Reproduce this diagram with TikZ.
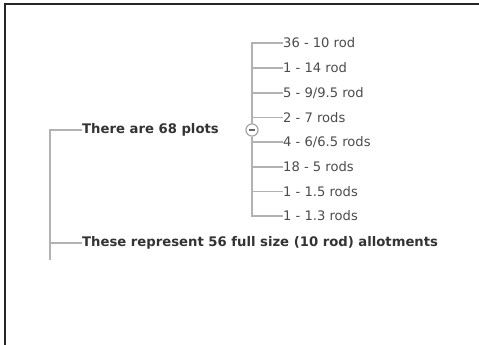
\documentclass[tikz,border=0pt]{standalone}
\usepackage{fontspec}
\setmainfont{DejaVu Sans}
\begin{document}
\begin{tikzpicture}[x=1pt,y=-1pt,
  conn/.style={draw=black!30, line width=1.1pt},
  topic/.style={anchor=west, inner sep=0pt, text=black!80, font=\bfseries\fontsize{13.2}{15}\selectfont},
  sub/.style={anchor=west, inner sep=0pt, text=black!70, font=\fontsize{13.1}{15}\selectfont},
  frame/.style={draw=black!85, line width=2pt}]
\useasboundingbox (0,0) rectangle (479,345);
\fill[white] (0,0) rectangle (479,345);
\draw[frame] (5,345) -- (5,4.5) -- (479,4.5);
% left trunk
\coordinate (trunkTop) at (50,130);
\coordinate (trunkBot) at (50,260);
\coordinate (b2) at (50,243);
\node[topic] (t1) at (82,130) {There are 68 plots};
\node[topic] (t2) at (82,243) {These represent 56 full size (10 rod) allotments};
\draw[conn] (trunkBot) -- (trunkTop) -- (t1.west);
\draw[conn] (b2) -- (t2.west);
% collapse circle
\node[circle, draw=black!35, line width=1pt, fill=white, minimum size=12pt, inner sep=0pt] (c) at (252,130) {};
% children
\foreach \i/\y/\t in {1/43/{36 - 10 rod},2/68/{1 - 14 rod},3/93/{5 - 9/9.5 rod},4/117.5/{2 - 7 rods},5/142/{4 - 6/6.5 rods},6/167/{18 - 5 rods},7/191.5/{1 - 1.5 rods},8/216/{1 - 1.3 rods}}{
  \node[sub] (s\i) at (283,\y) {\t};
  \coordinate (j\i) at (252,\y);
}
\draw[conn] (c.north) -- (j1) -- (s1.west);
\draw[conn] (c.south) -- (j8) -- (s8.west);
\foreach \i in {2,...,7}{\draw[conn] (j\i) -- (s\i.west);}
\node[circle, draw=black!35, line width=1pt, fill=white, minimum size=12pt, inner sep=0pt] (c2) at (252,130) {};
\draw[draw=black!60, line width=1.3pt] ([xshift=-3pt]c2.center) -- ([xshift=3pt]c2.center);
\end{tikzpicture}
\end{document}
